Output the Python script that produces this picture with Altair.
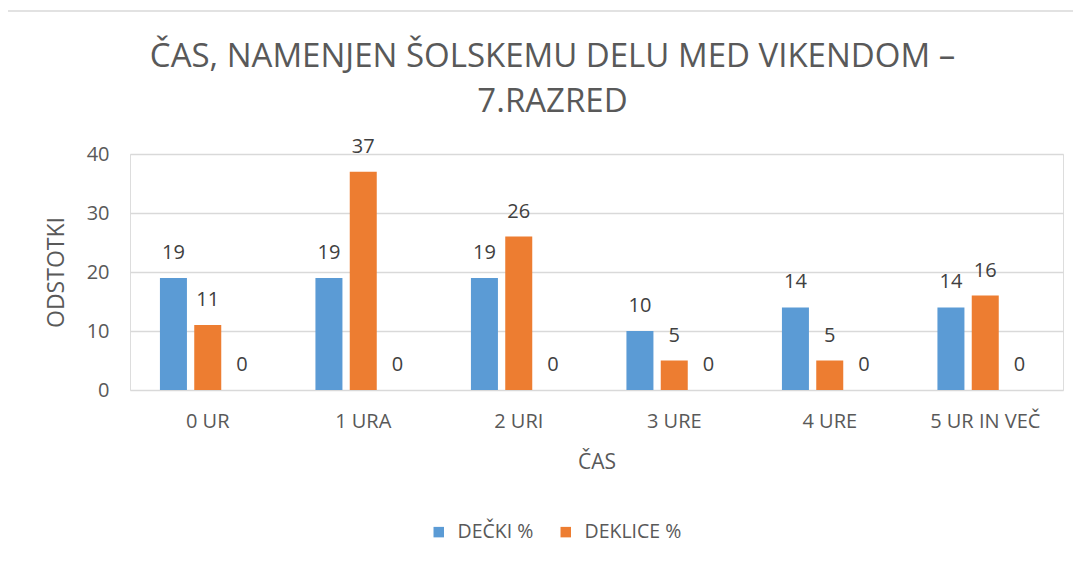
import altair as alt
import pandas as pd

categories = ["0 UR", "1 URA", "2  URI", "3 URE", "4 URE", "5 UR IN VEČ"]
series = ["DEČKI %", "DEKLICE %", "Serija 3"]
decki = [19, 19, 19, 10, 14, 14]
deklice = [11, 37, 26, 5, 5, 16]
serija3 = [0, 0, 0, 0, 0, 0]

rows = []
for i, c in enumerate(categories):
    for s, vals in zip(series, [decki, deklice, serija3]):
        rows.append({"cas": c, "serija": s, "vrednost": vals[i]})
df = pd.DataFrame(rows)

FONT = "Open Sans"
AX = "#595959"

x_enc = alt.X("cas:N", sort=categories, title="ČAS",
              scale=alt.Scale(paddingInner=0.385, paddingOuter=0.1925),
              axis=alt.Axis(labelAngle=0, labelFontSize=20, labelColor=AX, labelFont=FONT,
                            labelPadding=21, titleFontSize=21, titleColor=AX, titleFont=FONT,
                            titleFontWeight="normal", titlePadding=20, domain=False, ticks=False))
xo = alt.XOffset("serija:N", sort=series, scale=alt.Scale(paddingInner=0.213, paddingOuter=0))

bars = alt.Chart(df).mark_bar().encode(
    x=x_enc,
    xOffset=xo,
    y=alt.Y("vrednost:Q", title="ODSTOTKI",
            scale=alt.Scale(domain=[0, 40], nice=False),
            axis=alt.Axis(values=[0, 10, 20, 30, 40], labelFontSize=20, labelColor=AX,
                          labelFont=FONT, labelPadding=21, titleFontSize=23, titleColor=AX,
                          titleFont=FONT, titleFontWeight="normal", titlePadding=18,
                          domain=False, ticks=False, gridColor="#D9D9D9", gridWidth=1.5)),
    color=alt.Color("serija:N", sort=series,
                    scale=alt.Scale(domain=series, range=["#5B9BD5", "#ED7D31", "#A5A5A5"]),
                    legend=alt.Legend(values=["DEČKI %", "DEKLICE %"], title=None,
                                      orient="none", legendX=299, legendY=368,
                                      direction="horizontal", symbolType="square",
                                      symbolSize=110, symbolStrokeWidth=0,
                                      labelFontSize=19.5, labelColor=AX, labelFont=FONT,
                                      labelOffset=9, columnPadding=22)),
)

labels = alt.Chart(df).mark_text(baseline="middle", dy=-25, fontSize=20, font=FONT,
                                 color="#404040").encode(
    x=alt.X("cas:N", sort=categories),
    xOffset=xo,
    y="vrednost:Q",
    text="vrednost:Q",
)

frame = alt.Chart(pd.DataFrame({"a": [0]})).mark_rect(
    fill="transparent", stroke="#D9D9D9", strokeWidth=1.5).encode(
    x=alt.value(-125), x2=alt.value(1200), y=alt.value(-143), y2=alt.value(600))

chart = alt.layer(frame, bars, labels).properties(
    width=933, height=236,
    title=alt.TitleParams(["ČAS, NAMENJEN ŠOLSKEMU DELU MED VIKENDOM  –", "7.RAZRED"],
                          fontSize=33, font=FONT, fontWeight="normal", color=AX,
                          anchor="middle", frame="group", lineHeight=45, offset=-109, dx=-44),
    autosize=alt.AutoSizeParams(type="none"),
    padding={"left": 122, "top": 146, "right": 10, "bottom": 164},
).configure_view(stroke=None).configure(background="white")

chart.save("out.html", embed_options={"renderer": "svg", "actions": False})
